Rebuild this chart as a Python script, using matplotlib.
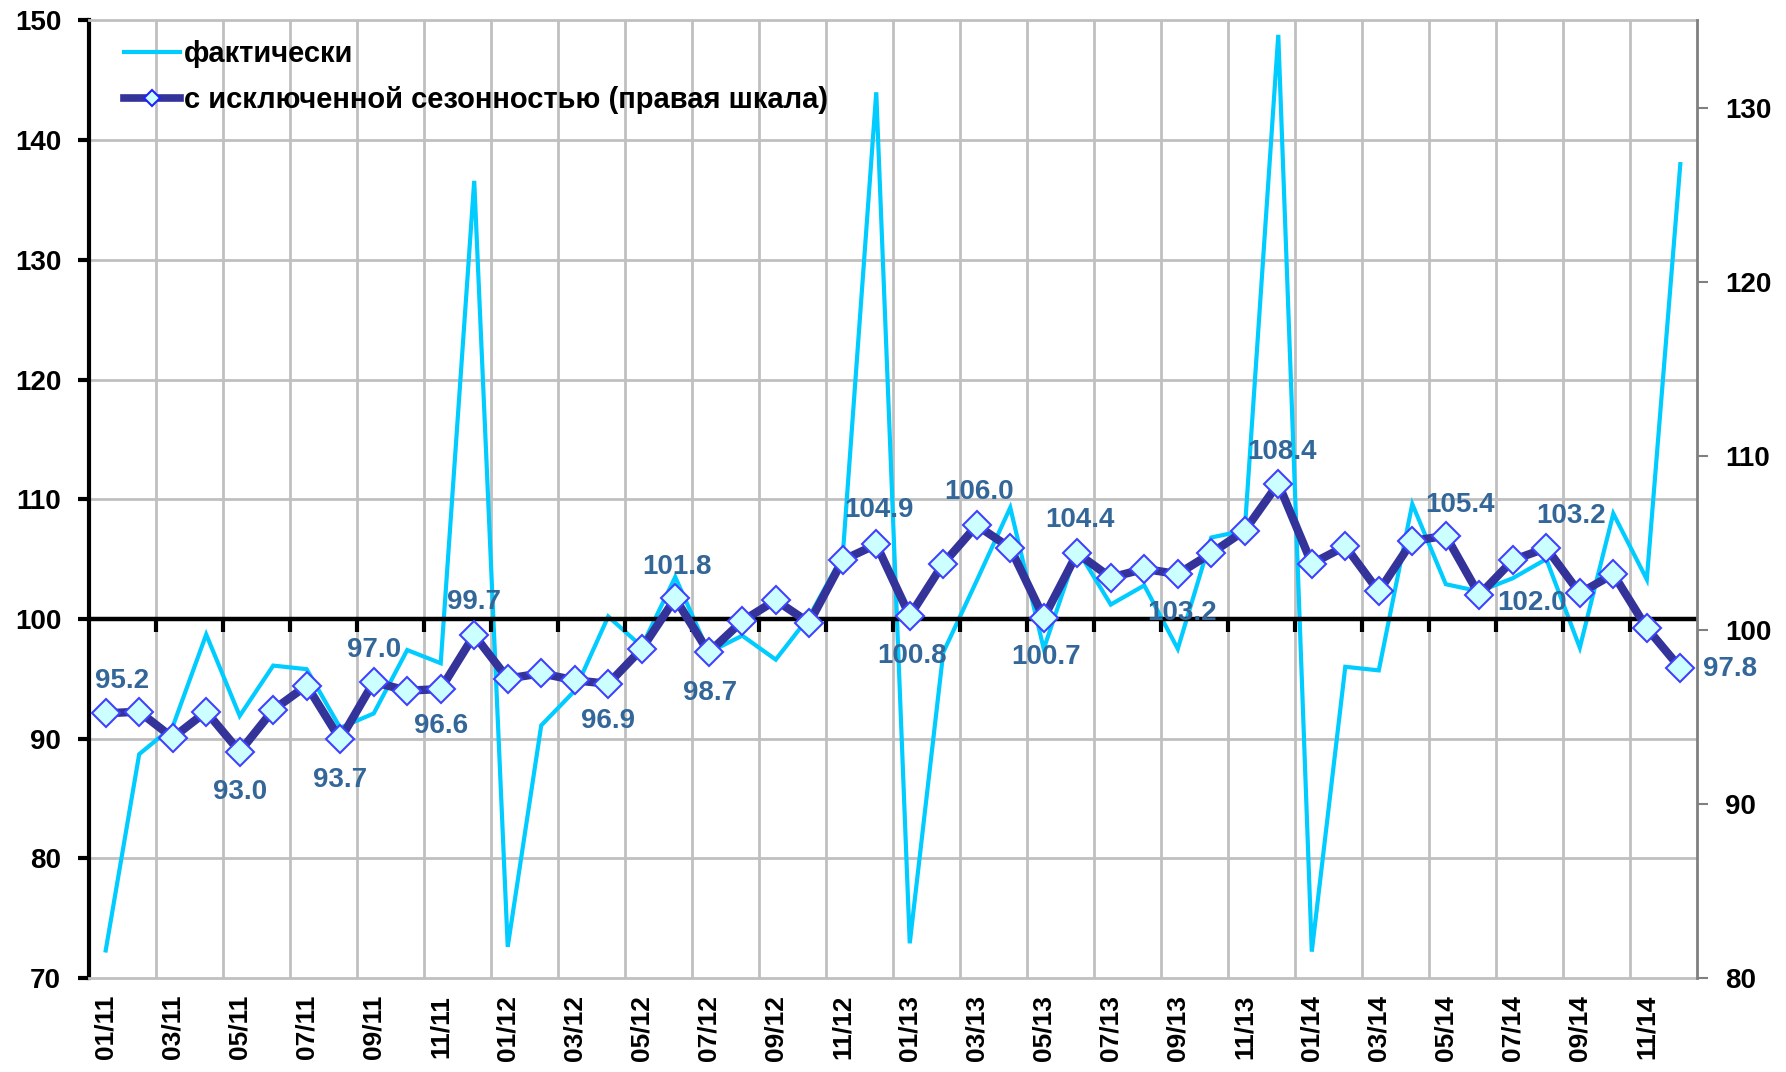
import numpy as np
import matplotlib
matplotlib.use("Agg")
import matplotlib.pyplot as plt
from matplotlib.lines import Line2D

# ---------------- data ----------------
months = ["01/11","02/11","03/11","04/11","05/11","06/11","07/11","08/11","09/11","10/11","11/11","12/11",
          "01/12","02/12","03/12","04/12","05/12","06/12","07/12","08/12","09/12","10/12","11/12","12/12",
          "01/13","02/13","03/13","04/13","05/13","06/13","07/13","08/13","09/13","10/13","11/13","12/13",
          "01/14","02/14","03/14","04/14","05/14","06/14","07/14","08/14","09/14","10/14","11/14","12/14"]

actual = [72.3, 88.7, 91.0, 98.7, 91.9, 96.1, 95.8, 90.9, 92.1, 97.4, 96.3, 136.6,
          72.6, 91.1, 94.0, 100.2, 97.7, 103.5, 97.2, 98.6, 96.6, 100.2, 105.3, 144.0,
          72.9, 97.2, 103.2, 109.3, 97.5, 105.8, 101.2, 102.8, 97.5, 106.8, 107.4, 148.8,
          72.2, 96.0, 95.7, 109.6, 102.9, 102.3, 103.4, 105.0, 97.6, 108.8, 103.3, 138.0]

seas_adj = [95.2, 95.3, 93.8, 95.3, 93.0, 95.4, 96.8, 93.7, 97.0, 96.5, 96.6, 99.7,
            97.2, 97.5, 97.1, 96.9, 98.9, 101.8, 98.7, 100.5, 101.7, 100.4, 104.0, 104.9,
            100.8, 103.8, 106.0, 104.7, 100.7, 104.4, 103.0, 103.5, 103.2, 104.4, 105.7, 108.4,
            103.8, 104.8, 102.2, 105.1, 105.4, 102.0, 104.0, 104.7, 102.1, 103.2, 100.1, 97.8]

# data labels: (index, text, dx [pt], dy [pt])
label_idx  = [0, 4, 7, 8, 10, 11, 15, 17, 18, 23, 24, 26, 28, 29, 32, 35, 40, 41, 43, 47]
label_text = ["95.2", "93.0", "93.7", "97.0", "96.6", "99.7", "96.9", "101.8", "98.7", "104.9",
              "100.8", "106.0", "100.7", "104.4", "103.2", "108.4", "105.4", "102.0", "103.2", "97.8"]
label_dx   = [12, 0, 0, 0, 0, 0, 0, 1, 1, 2, 2, 2, 2, 2, 3, 3, 10, 38, 18, 36]
label_dy   = [23, -29, -29, 23, -27, 24, -27, 23, -29, 25, -29, 24, -28, 24, -28, 23, 22, -6, 23, -1]

left_ticks = [70, 80, 90, 100, 110, 120, 130, 140, 150]
right_ticks = [80, 90, 100, 110, 120, 130]

legend_labels = ["фактически", "с исключенной сезонностью (правая шкала)"]

# ---------------- style ----------------
C_ACT = "#00CCFF"
C_SA = "#333399"
C_LBL = "#336699"
REG = ["Liberation Sans", "DejaVu Sans"]

fig = plt.figure(figsize=(17.86, 10.72), dpi=100)
ax = fig.add_axes([0.0498, 0.0877, 0.9004, 0.8932])
ax2 = ax.twinx()

x = np.arange(len(months))

ax.set_xlim(-0.5, len(months) - 0.5)
ax.set_ylim(70, 150)
ax2.set_ylim(80, 135)

# grid
bounds = np.arange(1.5, len(months) - 1, 2)
for b in bounds:
    ax.axvline(b, color="#C0C0C0", lw=2, zorder=0)
for t in left_ticks[1:-1]:
    ax.axhline(t, color="#C0C0C0", lw=2, zorder=0)

# black 100 line with tick marks
ax.axhline(100, color="black", lw=3.2, zorder=2)
ax.plot(bounds, np.full(len(bounds), 100.0), ls="none", marker=3, ms=9, mew=3, color="black", zorder=2)

# series
ax.plot(x, actual, color=C_ACT, lw=3, zorder=1, solid_joinstyle="miter")
ax2.plot(x, seas_adj, color=C_SA, lw=6, zorder=3, marker="D", ms=14,
         mfc="#CCFFFF", mec="#4040FF", mew=1.5)

for i, t, dx, dy in zip(label_idx, label_text, label_dx, label_dy):
    ax2.annotate(t, (x[i], seas_adj[i]), xytext=(dx, dy), textcoords="offset points",
                 ha="center", va="center", color=C_LBL, fontsize=20, fontweight="bold",
                 family=REG, zorder=5)

# axes styling
ax.set_xticks(x[::2])
ax.set_xticklabels(months[::2], rotation=90, fontsize=19, fontweight="bold", family=REG)
ax.tick_params(axis="x", length=0, pad=12)
ax.set_yticks(left_ticks)
ax.set_yticklabels([str(v) for v in left_ticks], fontsize=20, fontweight="bold", family=REG)
ax.tick_params(axis="y", direction="out", length=8, width=3, color="black", pad=12)

ax2.set_yticks(right_ticks)
ax2.set_yticklabels([str(v) for v in right_ticks], fontsize=20, fontweight="bold", family=REG)
ax2.tick_params(axis="y", direction="out", length=8, width=1.5, color="#808080", pad=12)

ax.spines["left"].set_color("black")
ax.spines["left"].set_linewidth(3)
for s in ["top", "bottom"]:
    ax.spines[s].set_color("#C0C0C0")
    ax.spines[s].set_linewidth(2)
ax.spines["right"].set_visible(False)
ax2.spines["right"].set_color("#808080")
ax2.spines["right"].set_linewidth(2)
for s in ["top", "bottom", "left"]:
    ax2.spines[s].set_visible(False)

# legend
h1 = Line2D([], [], color=C_ACT, lw=3)
h2 = Line2D([], [], color=C_SA, lw=5.5, marker="D", ms=8, mfc="#CCFFFF", mec="#2020FF", mew=1.5)
leg = ax2.legend([h1, h2], legend_labels, loc="upper left", bbox_to_anchor=(0.011, 0.998),
                 frameon=False, handlelength=1.9, handletextpad=0.15, labelspacing=0.62,
                 borderpad=0.1, prop={"family": REG, "weight": "bold", "size": 21})

fig.savefig("out.png", dpi=100)
